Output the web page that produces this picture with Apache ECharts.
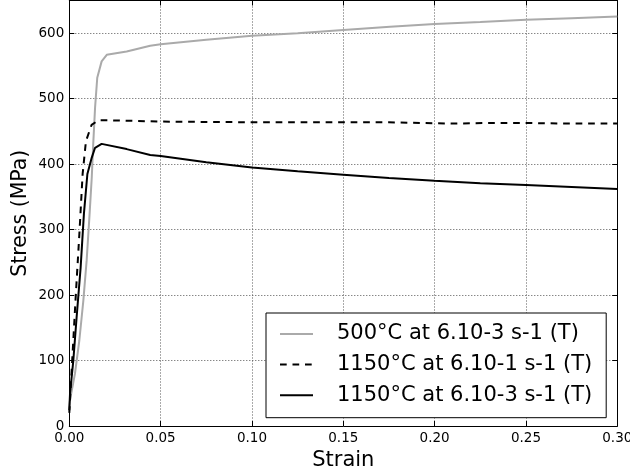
<!DOCTYPE html>
<html>
<head>
<meta charset="utf-8">
<script src="https://cdn.jsdelivr.net/npm/echarts@6/dist/echarts.min.js"></script>
<style>html,body{margin:0;padding:0;background:#fff}#c{width:630px;height:475px}</style>
</head>
<body>
<div id="c"></div>
<script>
// Strain (x) and stress in MPa (y)
const names = ["500°C at 6.10-3 s-1 (T)", "1150°C at 6.10-1 s-1 (T)", "1150°C at 6.10-3 s-1 (T)"];
const gray500_strain = [0, 0.0004, 0.0031, 0.0055, 0.0077, 0.0095, 0.011, 0.0123, 0.0131, 0.0141, 0.0153, 0.0177, 0.0205, 0.0314, 0.0443, 0.05, 0.075, 0.10, 0.125, 0.15, 0.1756, 0.20, 0.225, 0.25, 0.275, 0.30];
const gray500_stress = [30, 40, 80, 131, 192, 253, 319, 380, 431, 486, 532, 557, 567, 572, 581, 583, 590, 596, 600, 605, 610, 614, 617, 620.5, 623, 625.6];
const dash1150_strain = [0, 0.0018, 0.0037, 0.0055, 0.0073, 0.0091, 0.0122, 0.0159, 0.0223, 0.05, 0.10, 0.15, 0.175, 0.21, 0.23, 0.25, 0.27, 0.30];
const dash1150_stress = [20, 111, 207, 293, 385, 435, 460, 467, 467, 465, 464, 464, 464, 462, 463, 463, 462, 462];
const solid1150_strain = [0, 0.0004, 0.0022, 0.004, 0.0062, 0.008, 0.0099, 0.0123, 0.0141, 0.0177, 0.0314, 0.0443, 0.05, 0.075, 0.10, 0.125, 0.15, 0.175, 0.20, 0.225, 0.25, 0.275, 0.30];
const solid1150_stress = [24, 50, 100, 166, 242, 324, 385, 410, 425, 431, 423, 414, 412.5, 403, 395, 389, 384, 379, 374.5, 371, 368, 365, 362];
const xTicks = [0, 0.05, 0.10, 0.15, 0.20, 0.25, 0.30];
const yTicks = [0, 100, 200, 300, 400, 500, 600];

const zip = (a, b) => a.map((v, i) => [v, b[i]]);
const FONT = 'DejaVu Sans';
const chart = echarts.init(document.getElementById('c'), null, {renderer: 'canvas'});
const gridLine = {show: true, lineStyle: {color: '#555', width: 1, type: [1, 2]}};
const axisLine = {show: true, onZero: false, lineStyle: {color: '#000', width: 1}};
const tick = {show: true, inside: true, length: 5, lineStyle: {color: '#000', width: 1}};
chart.setOption({
  animation: false,
  backgroundColor: '#fff',
  grid: {left: 69.3, right: 12.7, top: 0.5, bottom: 49, containLabel: false, outerBoundsMode: 'none'},
  xAxis: [{
    type: 'value', min: 0, max: 0.3, interval: 0.05, position: 'bottom',
    name: 'Strain', nameLocation: 'middle', nameGap: 24, nameMoveOverlap: false,
    nameTextStyle: {fontFamily: FONT, fontSize: 21, color: '#000'},
    axisLine, axisTick: tick, splitLine: gridLine,
    axisLabel: {fontFamily: FONT, fontSize: 13.5, color: '#000', margin: 5,
      formatter: v => xTicks.some(t => Math.abs(t - v) < 1e-9) ? v.toFixed(2) : ''}
  }, {
    type: 'value', min: 0, max: 0.3, interval: 0.05, position: 'top',
    axisLine, axisTick: tick, splitLine: {show: false}, axisLabel: {show: false}
  }],
  yAxis: [{
    type: 'value', min: 0, max: 650, interval: 100, position: 'left',
    name: 'Stress (MPa)', nameLocation: 'middle', nameGap: 38, nameMoveOverlap: false,
    nameTextStyle: {fontFamily: FONT, fontSize: 20.5, color: '#000'},
    axisLine, axisTick: tick, splitLine: gridLine,
    axisLabel: {fontFamily: FONT, fontSize: 13.5, color: '#000', margin: 5,
      formatter: v => yTicks.includes(v) ? String(v) : ''}
  }, {
    type: 'value', min: 0, max: 650, interval: 100, position: 'right',
    axisLine, axisTick: tick, splitLine: {show: false}, axisLabel: {show: false}
  }],
  legend: {
    orient: 'vertical', left: 266, top: 313,
    itemWidth: 33, itemHeight: 12, itemGap: 9.6,
    padding: [10.5, 14, 12, 13],
    borderColor: '#000', borderWidth: 1, backgroundColor: '#fff', borderRadius: 0,
    itemStyle: {opacity: 0},
    textStyle: {fontFamily: FONT, fontSize: 21, color: '#000', padding: [0, 0, 0, 19]},
    data: names
  },
  series: [
    {name: names[0], type: 'line', symbol: 'none', data: zip(gray500_strain, gray500_stress),
      lineStyle: {color: '#aaaaaa', width: 2}, itemStyle: {color: '#aaaaaa'}, z: 2},
    {name: names[1], type: 'line', symbol: 'none', data: zip(dash1150_strain, dash1150_stress),
      lineStyle: {color: '#000', width: 2, type: [6.7, 5.8]}, itemStyle: {color: '#000'}, z: 3},
    {name: names[2], type: 'line', symbol: 'none', data: zip(solid1150_strain, solid1150_stress),
      lineStyle: {color: '#000', width: 2}, itemStyle: {color: '#000'}, z: 4}
  ]
});
</script>
</body>
</html>
